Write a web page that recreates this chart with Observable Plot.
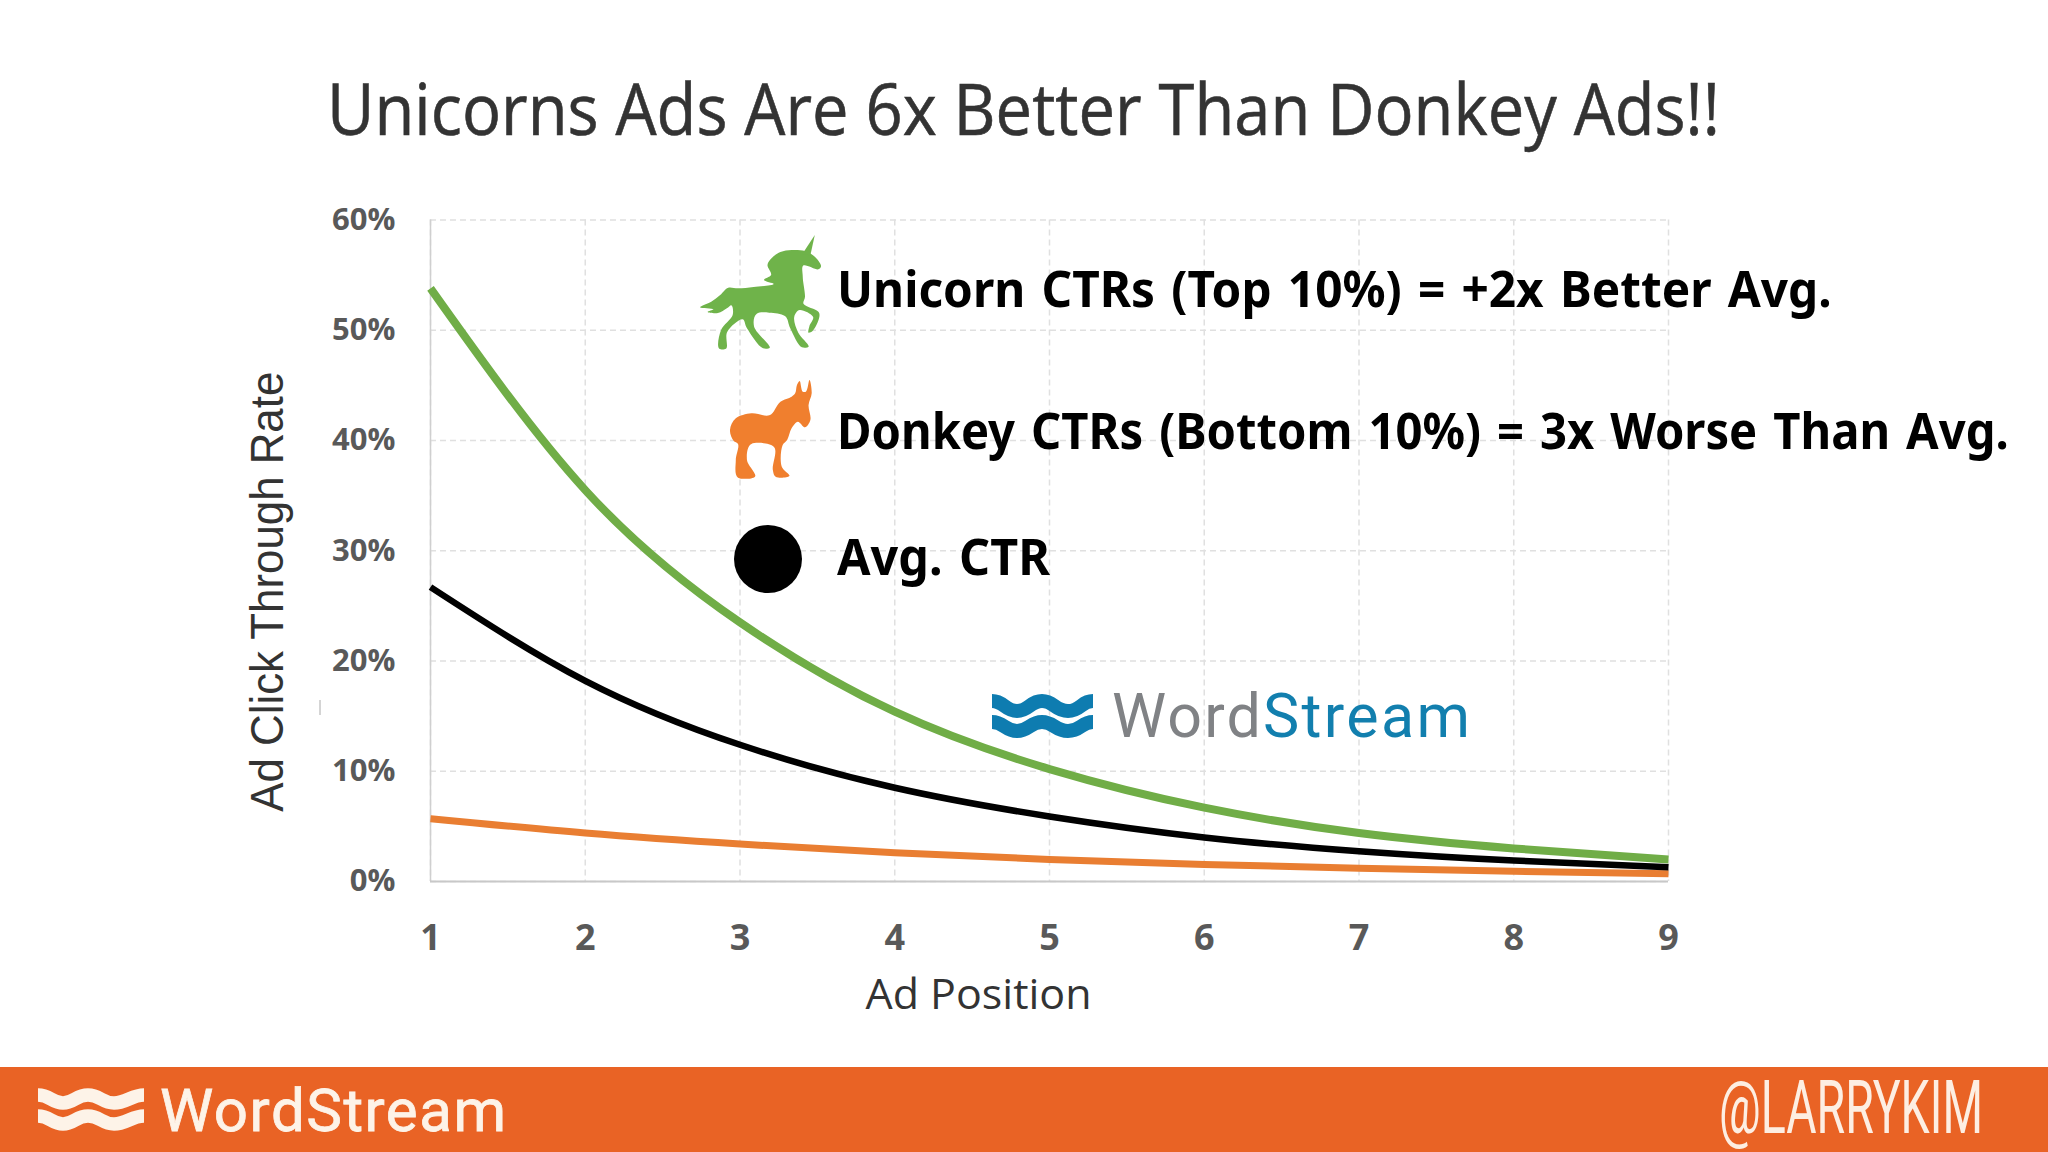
<!DOCTYPE html>
<html><head><meta charset="utf-8">
<script src="https://cdn.jsdelivr.net/npm/d3@7"></script>
<script src="https://cdn.jsdelivr.net/npm/@observablehq/plot@0.6"></script>
<style>
html,body{margin:0;padding:0;background:#fff;width:2048px;height:1152px;overflow:hidden}
#chart,#over{position:absolute;left:0;top:0}
#over{pointer-events:none}
</style></head><body>
<div id="chart"></div>
<svg id="over" width="2048" height="1152" viewBox="0 0 2048 1152">
  <text x="327" y="135" font-family="Open Sans" font-size="71" fill="#333" stroke="#333" stroke-width="0.6" textLength="1393" lengthAdjust="spacingAndGlyphs">Unicorns Ads Are 6x Better Than Donkey Ads!!</text>
  <line x1="320" x2="320" y1="700" y2="715" stroke="#aaa" stroke-width="1"/>
  <g transform="translate(680 220) scale(0.4464 0.3333)">
    <path id="uni" fill="#6fb34a"/>
    <path fill="#6fb34a" d="M302 45L274 102L292 106Z"/>
    <path id="don" fill="#f07f2e"/>
  </g>
  <circle cx="768" cy="559" r="34" fill="#000"/>
  <g font-family="Noto Sans" font-weight="700" font-size="50" fill="#000" word-spacing="4">
    <text class="fit" data-x="837" data-y="307" data-w="995">Unicorn CTRs (Top 10%) = +2x Better Avg.</text>
    <text class="fit" data-x="837" data-y="449" data-w="1172">Donkey CTRs (Bottom 10%) = 3x Worse Than Avg.</text>
    <text class="fit" data-x="837" data-y="575" data-w="213">Avg. CTR</text>
  </g>
  <g fill="none" stroke="#0e7cb0" stroke-width="14">
    <path d="M992 701C1004 701 1005 711 1017 711S1030 701 1042 701S1055 711 1068 711S1081 701 1093 701"/>
    <path d="M992 722C1004 722 1005 731 1017 731S1030 722 1042 722S1055 731 1068 731S1081 722 1093 722"/>
  </g>
  <text x="1112" y="737" font-family="Roboto" font-size="61" fill="#808285" textLength="149" lengthAdjust="spacing">Word</text>
  <text x="1263" y="737" font-family="Roboto" font-size="61" fill="#127fae" textLength="207" lengthAdjust="spacing">Stream</text>
  <rect x="0" y="1067" width="2048" height="85" fill="#e96325"/>
  <g fill="none" stroke="#fdf3e8" stroke-width="13.5">
    <path d="M38 1095C50 1095 52 1103 63 1103S76 1095 88 1095S102 1103 114 1103S132 1095 144 1095"/>
    <path d="M38 1116C50 1116 52 1124 63 1124S76 1116 88 1116S102 1124 114 1124S132 1116 144 1116"/>
  </g>
  <text x="160" y="1131" font-family="Roboto" font-size="60" fill="#fdf3e8" stroke="#fdf3e8" stroke-width="0.8" textLength="346" lengthAdjust="spacing">WordStream</text>
  <text class="fit" data-x="1719" data-y="1133" data-w="264" font-family="Roboto" font-size="74" fill="#fdeee2">@LARRYKIM</text>
</svg>
<script>
const positions = [1, 2, 3, 4, 5, 6, 7, 8, 9];
const unicorn = [53.8, 35.5, 23.5, 15.4, 10.2, 6.7, 4.4, 3.0, 2.0];
const average = [26.7, 18.2, 12.4, 8.5, 5.9, 4.0, 2.75, 1.9, 1.3];
const donkey  = [5.7, 4.4, 3.4, 2.6, 2.0, 1.55, 1.2, 0.92, 0.7];
const yTicks = [0, 10, 20, 30, 40, 50, 60];
const xLabel = "Ad Position";
const yLabel = "Ad Click Through Rate";

const unicornShape = [[316,138],[300,108],[280,93],[250,90],[225,96],[205,115],[196,135],[204,165],[188,180],[210,192],[165,201],[130,205],[108,203],[90,225],[70,245],[45,262],[75,268],[62,276],[85,279],[105,265],[115,256],[118,285],[92,330],[88,386],[103,386],[106,335],[140,298],[150,325],[186,385],[201,383],[166,320],[172,281],[200,278],[235,288],[247,325],[273,382],[288,380],[265,338],[256,290],[268,270],[298,290],[290,318],[288,338],[297,333],[312,292],[310,275],[277,252],[280,230],[275,170],[277,136],[310,148]];
const donkeyShape = [[258,520],[262,495],[268,483],[275,515],[282,515],[290,480],[295,520],[288,555],[292,600],[280,622],[264,605],[250,625],[240,660],[230,675],[228,740],[245,768],[215,771],[208,750],[210,680],[160,672],[150,720],[168,770],[130,773],[125,720],[130,672],[120,662],[112,630],[125,595],[160,580],[200,586],[225,545],[250,530]];
const shape = d3.line().curve(d3.curveCatmullRomClosed.alpha(0.5));
document.getElementById("uni").setAttribute("d", shape(unicornShape));
document.getElementById("don").setAttribute("d", shape(donkeyShape));

const series = (vals, stroke, strokeWidth) => Plot.line(positions, {
  x: d => d, y: (d, i) => vals[i], stroke, strokeWidth,
  curve: "natural", strokeLinecap: "butt", strokeLinejoin: "round"
});

const plot = Plot.plot({
  width: 2048, height: 1152,
  marginLeft: 430, marginRight: 380, marginTop: 219.5, marginBottom: 271,
  style: {background: "transparent", fontFamily: "Open Sans", overflow: "visible"},
  x: {domain: [1, 9], ticks: positions},
  y: {domain: [0, 60], ticks: yTicks},
  marks: [
    Plot.gridX(positions, {x: d => d, stroke: "#e0e0e0", strokeOpacity: 1, strokeWidth: 1.5, strokeDasharray: "6 4"}),
    Plot.gridY(yTicks, {y: d => d, stroke: "#e0e0e0", strokeOpacity: 1, strokeWidth: 1.5, strokeDasharray: "6 4"}),
    Plot.ruleX([1], {stroke: "#cfcfcf", strokeWidth: 1.5}),
    Plot.ruleY([0], {stroke: "#c8c8c8", strokeWidth: 2}),
    Plot.axisX(positions, {anchor: "bottom", label: null, tickSize: 0, tickPadding: 43, fontSize: 36, fontWeight: 700, fill: "#595959", tickFormat: d => String(d)}),
    Plot.axisY(yTicks, {anchor: "left", label: null, tickSize: 0, tickPadding: 35, fontSize: 31, fontWeight: 700, fill: "#595959", tickFormat: d => d + "%"}),
    series(donkey, "#e97e32", 7),
    series(unicorn, "#70ad47", 8),
    series(average, "#000", 6.5),
    Plot.text([xLabel], {text: d => d, frameAnchor: "bottom", textAnchor: "middle", dx: -71, dy: 127, lineAnchor: "bottom", fontSize: 42, fill: "#333", className: "x-title"}),
    Plot.text([yLabel], {text: d => d, frameAnchor: "left", textAnchor: "middle", dx: -148, dy: 41, lineAnchor: "bottom", rotate: -90, fontSize: 46, fontFamily: "Liberation Sans", fill: "#333", className: "y-title"})
  ]
});
document.getElementById("chart").appendChild(plot);
d3.select(plot).selectAll(".y-title text").attr("textLength", 440).attr("lengthAdjust", "spacingAndGlyphs");
d3.select(plot).selectAll(".x-title text").attr("textLength", 226).attr("lengthAdjust", "spacingAndGlyphs");
document.querySelectorAll(".fit").forEach(t => {
  const k = +t.dataset.w / t.getComputedTextLength();
  t.setAttribute("transform", `translate(${t.dataset.x} ${t.dataset.y}) scale(${k} 1)`);
});
</script>
</body></html>
